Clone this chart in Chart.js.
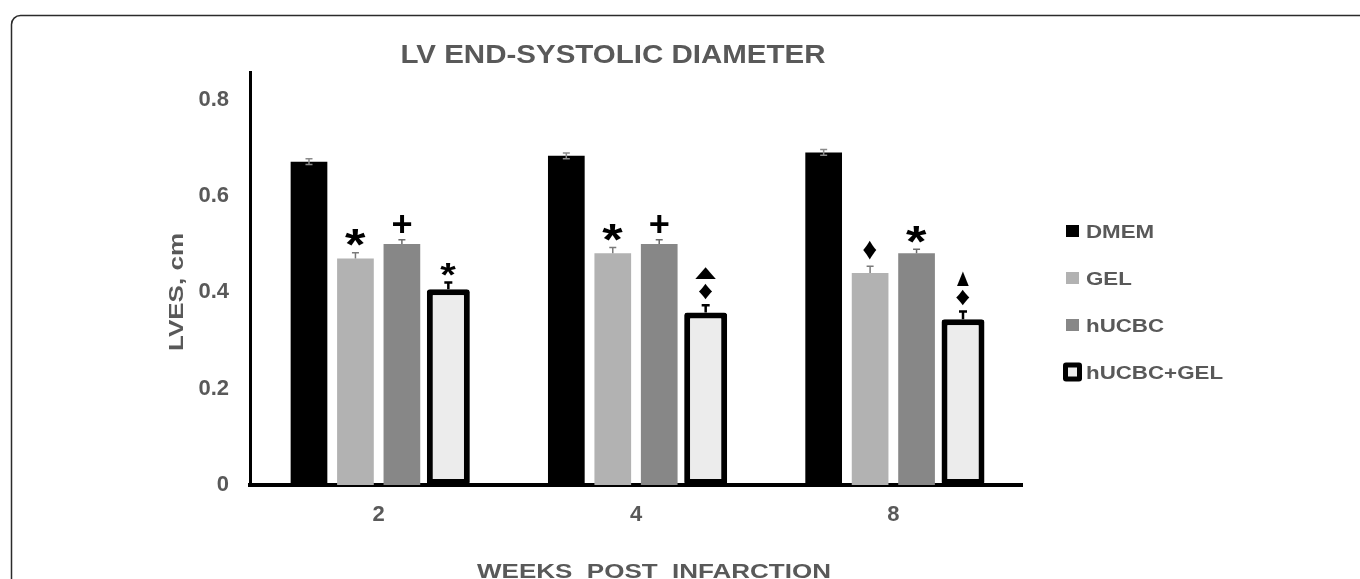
<!DOCTYPE html>
<html>
<head>
<meta charset="utf-8">
<script src="https://cdn.jsdelivr.net/npm/chart.js@4/dist/chart.umd.min.js"></script>
<style>
  html, body { margin: 0; padding: 0; background: #ffffff; overflow: hidden; }
  #wrap { width: 1360px; height: 579px; position: relative; }
</style>
</head>
<body>
<div id="wrap"><canvas id="c" width="1360" height="579"></canvas></div>
<script>
// ---------------- DATA ----------------
const categories = ['2', '4', '8'];
const seriesNames = ['DMEM', 'GEL', 'hUCBC', 'hUCBC+GEL'];
const dmemValues = [0.671, 0.683, 0.690];
const gelValues = [0.470, 0.481, 0.440];
const hucbcValues = [0.500, 0.500, 0.481];
const hucbcGelValues = [0.406, 0.358, 0.344];
const dmemErr = [0.006, 0.006, 0.006];
const gelErr = [0.012, 0.012, 0.014];
const hucbcErr = [0.009, 0.009, 0.008];
const hucbcGelErr = [0.014, 0.015, 0.016];
// significance marks, listed top to bottom
const dmemMarks = [[], [], []];
const gelMarks = [['star'], ['star'], ['diamond']];
const hucbcMarks = [['plus'], ['plus'], ['star']];
const hucbcGelMarks = [['starSmall'], ['triWide', 'diamondSmall'], ['triTall', 'diamondSmall']];
const yTickValues = [0, 0.2, 0.4, 0.6, 0.8];
const chartTitle = 'LV END-SYSTOLIC DIAMETER';
const xAxisTitle = 'WEEKS  POST  INFARCTION';
const yAxisTitle = 'LVES, cm';

// ---------------- STYLE ----------------
const FONT = '"Liberation Sans", Arial, sans-serif';
const TEXT = '#595959';
const SYM = {
  star:         { ch: '*', w: 21, h: 18 },
  starSmall:    { ch: '*', w: 16, h: 13 },
  plus:         { ch: '+', w: 19, h: 18 },
  diamond:      { ch: '\u2666', w: 14, h: 19 },
  diamondSmall: { ch: '\u2666', w: 14, h: 16 },
  triWide:      { ch: '\u25B2', w: 21, h: 12 },
  triTall:      { ch: '\u25B2', w: 12, h: 15 }
};

const datasets = [
  { label: seriesNames[0], data: dmemValues, err: dmemErr, marks: dmemMarks,
    backgroundColor: '#000000', borderWidth: 0,
    errStyle: { color: '#8a8a8a', width: 1.5, cap: 7, both: true } },
  { label: seriesNames[1], data: gelValues, err: gelErr, marks: gelMarks,
    backgroundColor: '#b2b2b2', borderWidth: 0,
    errStyle: { color: '#7a7a7a', width: 1.5, cap: 7, both: false } },
  { label: seriesNames[2], data: hucbcValues, err: hucbcErr, marks: hucbcMarks,
    backgroundColor: '#878787', borderWidth: 0,
    errStyle: { color: '#6a6a6a', width: 1.5, cap: 7, both: false } },
  { label: seriesNames[3], data: hucbcGelValues, err: hucbcGelErr, marks: hucbcGelMarks,
    backgroundColor: '#ececec', borderColor: '#000000', borderWidth: 6,
    borderSkipped: false, borderRadius: 3, barPercentage: 0.925,
    errStyle: { color: '#000000', width: 2.5, cap: 8, both: false } }
];

// draw text horizontally stretched by sx around the anchor
function stretchedText(ctx, text, x, y, font, sx, align) {
  ctx.save();
  ctx.font = font;
  ctx.textAlign = align;
  ctx.textBaseline = 'alphabetic';
  ctx.translate(x, y);
  ctx.scale(sx, 1);
  ctx.fillText(text, 0, 0);
  ctx.restore();
}

// ---------------- PLUGINS ----------------
const framePlugin = {
  id: 'frame',
  beforeDraw(chart) {
    const ctx = chart.ctx;
    ctx.save();
    ctx.fillStyle = '#ffffff';
    ctx.fillRect(0, 0, chart.width, chart.height);
    ctx.strokeStyle = '#2b2b2b';
    ctx.lineWidth = 1.5;
    ctx.beginPath();
    ctx.moveTo(11.5, chart.height + 2);
    ctx.lineTo(11.5, 25);
    ctx.arcTo(11.5, 15.5, 21, 15.5, 9);
    ctx.lineTo(chart.width + 2, 15.5);
    ctx.stroke();
    ctx.restore();
  }
};

const errorMarksPlugin = {
  id: 'errorMarks',
  afterDatasetsDraw(chart) {
    const ctx = chart.ctx;
    const y = chart.scales.y;
    chart.data.datasets.forEach((ds, di) => {
      const meta = chart.getDatasetMeta(di);
      meta.data.forEach((bar, i) => {
        const v = ds.data[i], e = ds.err[i], st = ds.errStyle;
        const yTop = y.getPixelForValue(v + e);
        const yBot = st.both ? y.getPixelForValue(v - e) : y.getPixelForValue(v);
        ctx.save();
        ctx.strokeStyle = st.color;
        ctx.lineWidth = st.width;
        ctx.beginPath();
        ctx.moveTo(bar.x, yTop); ctx.lineTo(bar.x, yBot);
        ctx.moveTo(bar.x - st.cap / 2, yTop); ctx.lineTo(bar.x + st.cap / 2, yTop);
        if (st.both) { ctx.moveTo(bar.x - st.cap / 2, yBot); ctx.lineTo(bar.x + st.cap / 2, yBot); }
        ctx.stroke();
        ctx.restore();

        // significance marks
        const list = ds.marks[i] || [];
        let bottom = yTop - 6;
        for (let k = list.length - 1; k >= 0; k--) {
          const s = SYM[list[k]];
          ctx.save();
          ctx.font = 'bold 40px ' + FONT;
          ctx.fillStyle = '#000000';
          ctx.textAlign = 'left';
          ctx.textBaseline = 'alphabetic';
          const m = ctx.measureText(s.ch);
          const bw = m.actualBoundingBoxLeft + m.actualBoundingBoxRight;
          const bh = m.actualBoundingBoxAscent + m.actualBoundingBoxDescent;
          ctx.translate(bar.x, bottom);
          ctx.scale(s.w / bw, s.h / bh);
          ctx.fillText(s.ch, m.actualBoundingBoxLeft - bw / 2, -m.actualBoundingBoxDescent);
          ctx.restore();
          bottom -= s.h + 4;
        }
      });
    });
  }
};

const textPlugin = {
  id: 'texts',
  afterDraw(chart) {
    const ctx = chart.ctx;
    ctx.save();
    ctx.fillStyle = TEXT;
    // chart title
    stretchedText(ctx, chartTitle, 613, 63, 'bold 25px ' + FONT, 1.18, 'center');
    // x axis title
    stretchedText(ctx, xAxisTitle, 654, 578, 'bold 20px ' + FONT, 1.3, 'center');
    // y axis title (rotated)
    ctx.save();
    ctx.translate(183, 292);
    ctx.rotate(-Math.PI / 2);
    stretchedText(ctx, yAxisTitle, 0, 0, 'bold 21px ' + FONT, 1.24, 'center');
    ctx.restore();

    // legend
    chart.data.datasets.forEach((ds, i) => {
      const cy = 231 + i * 47;
      if (ds.borderWidth > 0) {
        ctx.fillStyle = ds.borderColor;
        ctx.beginPath();
        ctx.roundRect(1063, cy - 9.5, 19, 19, 3);
        ctx.fill();
        ctx.fillStyle = ds.backgroundColor;
        ctx.fillRect(1068, cy - 4.5, 9, 9);
      } else {
        ctx.fillStyle = ds.backgroundColor;
        ctx.fillRect(1066, cy - 6, 13, 12);
      }
      ctx.fillStyle = TEXT;
      stretchedText(ctx, ds.label, 1086, cy + 6.5, 'bold 18px ' + FONT, 1.24, 'left');
    });
    ctx.restore();
  }
};

// ---------------- CHART ----------------
new Chart(document.getElementById('c'), {
  type: 'bar',
  data: { labels: categories, datasets: datasets },
  options: {
    responsive: false,
    animation: false,
    categoryPercentage: 0.722,
    barPercentage: 0.79,
    layout: { padding: { top: 72, right: 338, bottom: 0, left: 0 } },
    plugins: { legend: { display: false }, tooltip: { enabled: false }, title: { display: false } },
    scales: {
      x: {
        grid: { display: false, drawTicks: false },
        border: { display: true, color: '#000000', width: 4 },
        ticks: { color: TEXT, font: { family: FONT, size: 22, weight: 'bold' }, padding: 17 },
        afterFit(scale) { scale.height = 94; }
      },
      y: {
        min: 0,
        max: 0.857,
        grid: { display: false, drawTicks: false },
        border: { display: true, color: '#000000', width: 3 },
        afterBuildTicks(scale) { scale.ticks = yTickValues.map(v => ({ value: v })); },
        ticks: {
          color: TEXT,
          font: { family: FONT, size: 22, weight: 'bold' },
          padding: 21,
          callback: v => (v === 0 ? '0' : v.toFixed(1))
        },
        afterFit(scale) { scale.width = 250; }
      }
    }
  },
  plugins: [framePlugin, errorMarksPlugin, textPlugin]
});
</script>
</body>
</html>
